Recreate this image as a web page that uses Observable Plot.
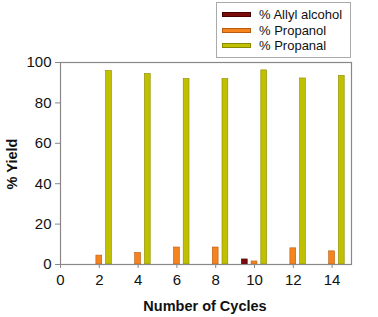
<!DOCTYPE html>
<html>
<head>
<meta charset="utf-8">
<script src="https://cdn.jsdelivr.net/npm/d3@7"></script>
<script src="https://cdn.jsdelivr.net/npm/@observablehq/plot@0.6"></script>
<style>
  body { margin: 0; background: #fff; font-family: "Liberation Sans", Arial, sans-serif; }
  #wrap { position: relative; width: 378px; height: 317px; }
  #legend { position: absolute; left: 216px; top: 2px; width: 135px; height: 56px; border: 1px solid #aaa; background: #fff; box-sizing: border-box; }
  .row { position: absolute; left: 5px; display: flex; align-items: center; font-size: 13px; color: #111; }
  .sw { width: 29px; height: 5px; margin-right: 8px; box-sizing: border-box; }
</style>
</head>
<body>
<div id="wrap"></div>
<script>
const cycles = [2, 4, 6, 8, 10, 12, 14];
const seriesNames = ["% Allyl alcohol", "% Propanol", "% Propanal"];
const allylAlcohol = [0, 0, 0, 0, 2.5, 0, 0];
const propanol = [4.4, 5.7, 8.4, 8.4, 1.5, 8.0, 6.5];
const propanal = [95.8, 94.3, 91.8, 91.8, 96.1, 92.1, 93.4];
const colors = ["#7b0a0a", "#f5841f", "#c0c000"];
const strokes = ["#4a0000", "#b85a10", "#8a8a00"];
const yTicks = [0, 20, 40, 60, 80, 100];
const xTicks = [0, 2, 4, 6, 8, 10, 12, 14];

const offsets = [-0.5, 0, 0.5];
const half = 0.15;
const values = [allylAlcohol, propanol, propanal];
const rows = [];
values.forEach((arr, s) => arr.forEach((v, i) => {
  if (v > 0) rows.push({series: seriesNames[s], s, cycle: cycles[i], value: v});
}));

const chart = Plot.plot({
  width: 378,
  height: 317,
  marginLeft: 60,
  marginRight: 27,
  marginTop: 62,
  marginBottom: 53,
  style: {fontFamily: "'Liberation Sans', Arial, sans-serif", fontSize: "15px", color: "#111", background: "#fff"},
  x: {domain: [0, 15], ticks: xTicks, label: null},
  y: {domain: [0, 100], ticks: yTicks, label: null},
  marks: [
    Plot.rect(rows, {
      x1: d => d.cycle + offsets[d.s] - half,
      x2: d => d.cycle + offsets[d.s] + half,
      y1: 0,
      y2: "value",
      fill: d => colors[d.s],
      stroke: d => strokes[d.s],
      strokeWidth: 0.6
    }),
    Plot.frame({stroke: "#888", strokeWidth: 1.2}),
    Plot.axisX({ticks: xTicks, tickSize: 4, stroke: "#888", fontSize: 15, label: null, tickPadding: 6}),
    Plot.axisY({ticks: yTicks, tickSize: 5, stroke: "#888", fontSize: 15, label: null, tickPadding: 4})
  ]
});
const svg = d3.select(chart);
svg.append("text")
  .attr("x", 205).attr("y", 311)
  .attr("text-anchor", "middle")
  .attr("font-weight", "bold").attr("font-size", 14.5)
  .attr("fill", "#111")
  .text("Number of Cycles");
svg.append("text")
  .attr("transform", "translate(17,164) rotate(-90)")
  .attr("text-anchor", "middle")
  .attr("font-weight", "bold").attr("font-size", 14.5)
  .attr("fill", "#111")
  .text("% Yield");

const wrap = document.getElementById("wrap");
wrap.appendChild(chart);
const legend = document.createElement("div");
legend.id = "legend";
seriesNames.forEach((name, i) => {
  const row = document.createElement("div");
  row.className = "row";
  row.style.top = (4 + i * 15.5) + "px";
  const sw = document.createElement("span");
  sw.className = "sw";
  sw.style.background = colors[i];
  sw.style.border = "1px solid " + strokes[i];
  const t = document.createElement("span");
  t.textContent = name;
  row.appendChild(sw);
  row.appendChild(t);
  legend.appendChild(row);
});
wrap.appendChild(legend);
</script>
</body>
</html>
